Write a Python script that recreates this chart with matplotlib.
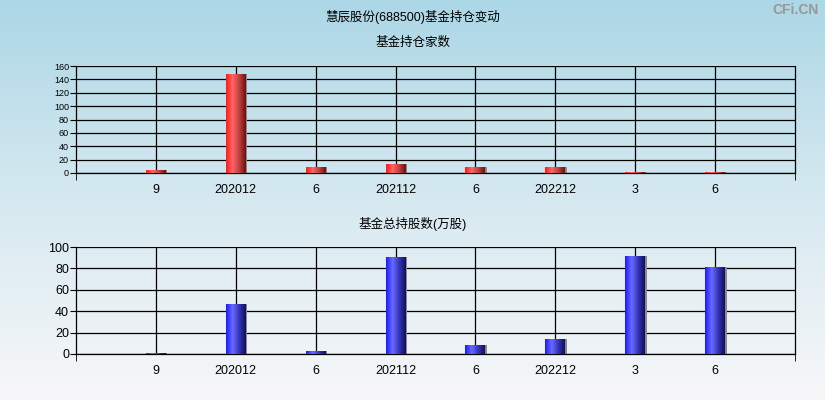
import matplotlib
matplotlib.use('Agg')
import matplotlib.pyplot as plt
import numpy as np
from matplotlib.colors import LinearSegmentedColormap

plt.rcParams['font.family'] = ['Liberation Sans', 'Noto Sans CJK SC', 'DejaVu Sans']
plt.rcParams['axes.unicode_minus'] = False

# 数据
labels = ['9', '202012', '6', '202112', '6', '202212', '3', '6']
fund_count = [5, 148, 9, 13, 9, 9, 1.5, 1]
fund_shares = [1, 47, 3, 91, 8.5, 14, 92, 81.5]

fig = plt.figure(figsize=(8.25, 4), dpi=100)

# 背景渐变（浅蓝 -> 近白）
bg = fig.add_axes([0, 0, 1, 1], zorder=-10)
grad = np.linspace(0, 1, 256).reshape(-1, 1)
bg_cmap = LinearSegmentedColormap.from_list('bg', ['#acd7e6', '#d6e9f0', '#f7f7f9'])
bg.imshow(grad, aspect='auto', cmap=bg_cmap, extent=[0, 1, 0, 1])
bg.axis('off')

fig.text(0.5, 0.957, '慧辰股份(688500)基金持仓变动', ha='center', va='center', fontsize=9)
fig.text(0.5, 0.893, '基金持仓家数', ha='center', va='center', fontsize=9)
fig.text(0.5, 0.44, '基金总持股数(万股)', ha='center', va='center', fontsize=9)
fig.text(0.992, 0.975, 'CFi.CN', ha='right', va='center', fontsize=10,
         color='#989898', fontweight='bold')

red_cmap = LinearSegmentedColormap.from_list('r', ['#ff1a1a', '#ff6666', '#c04040', '#6e1010'])
blue_cmap = LinearSegmentedColormap.from_list('b', ['#1a1aff', '#6a6aff', '#3434b8', '#10105e'])


def draw_panel(ax, values, cmap, ymax, ystep, yfont):
    x = np.arange(1, len(values) + 1)
    bars = ax.bar(x, values, width=0.25, color='none', zorder=3)
    hgrad = np.linspace(0, 1, 64).reshape(1, -1)
    for b in bars:
        x0, y0 = b.get_x(), b.get_y()
        w, h = b.get_width(), b.get_height()
        # 右侧灰色阴影
        ax.bar(x0 + w - 0.01, h, width=0.03, color='#8a8a8a', zorder=2, align='edge')
        im = ax.imshow(hgrad, aspect='auto', cmap=cmap,
                       extent=[x0, x0 + w, y0, y0 + h], zorder=3)
        im.set_clip_path(b)
    ax.set_xlim(0, 9)
    ax.set_ylim(0, ymax)
    ax.set_xticks(x)
    ax.set_xticklabels(labels, fontsize=9)
    ax.set_xticks([0, 9], minor=True)
    ax.tick_params(axis='x', which='major', length=0, pad=8)
    ax.tick_params(axis='x', which='minor', length=5)
    ax.set_yticks(np.arange(0, ymax + 1, ystep))
    ax.tick_params(axis='y', labelsize=yfont, length=4, pad=1)
    ax.grid(True, which='major', color='black', linewidth=0.9, zorder=1)
    ax.set_axisbelow(True)
    ax.set_facecolor('none')
    for s in ax.spines.values():
        s.set_color('black')
        s.set_linewidth(0.9)
    ax.spines['top'].set_visible(False)


ax1 = fig.add_axes([0.0921, 0.5675, 0.8715, 0.2675])
draw_panel(ax1, fund_count, red_cmap, 160, 20, 6.5)

ax2 = fig.add_axes([0.0921, 0.115, 0.8715, 0.2675])
draw_panel(ax2, fund_shares, blue_cmap, 100, 20, 9)

fig.savefig('out.png', dpi=100)
